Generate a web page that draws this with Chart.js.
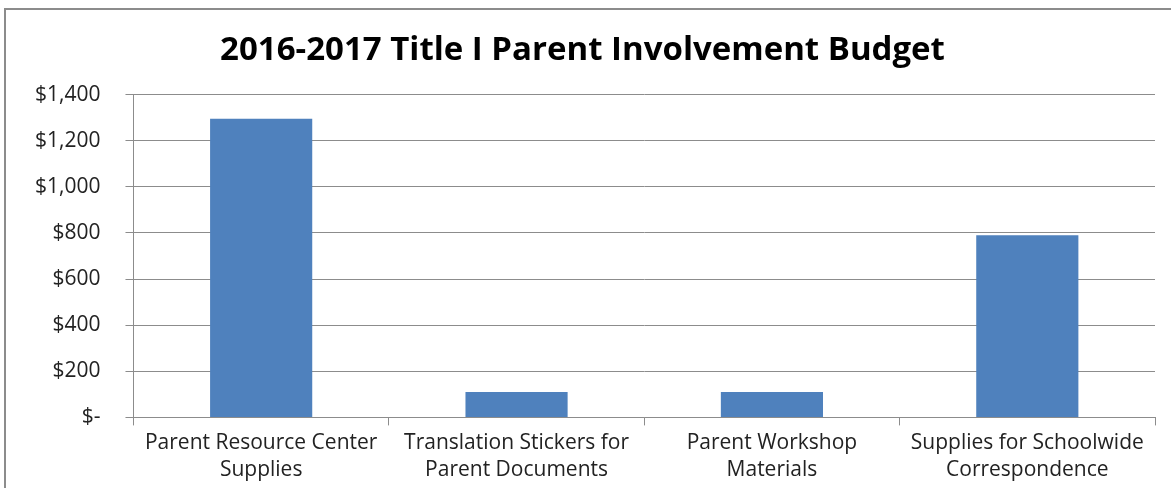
<!DOCTYPE html>
<html>
<head>
<meta charset="utf-8">
<script src="https://cdn.jsdelivr.net/npm/chart.js@4"></script>
<style>
  html, body { margin: 0; padding: 0; background: #fff; overflow: hidden; }
  #frame {
    position: absolute; left: 4px; top: 8px; width: 1200px; height: 520px;
    border-top: 2px solid #8c8c8c; border-left: 2px solid #8c8c8c;
  }
  #wrap { position: absolute; left: 0; top: 0; width: 1171px; height: 488px; }
</style>
</head>
<body>
<div id="frame"></div>
<div id="wrap"><canvas id="budgetChart" width="1171" height="488"></canvas></div>
<script>
// budget categories (two-line labels)
const categories = [
  ["Parent Resource Center", "Supplies"],
  ["Translation Stickers for", "Parent Documents"],
  ["Parent Workshop", "Materials"],
  ["Supplies for Schoolwide", "Correspondence"],
];
const amounts = [1295, 110, 110, 790];
const yTicks = [0, 200, 400, 600, 800, 1000, 1200, 1400];

const fmt = (v) =>
  v === 0 ? "$-" : "$" + v.toLocaleString("en-US");

const ctx = document.getElementById("budgetChart").getContext("2d");
new Chart(ctx, {
  type: "bar",
  data: {
    labels: categories,
    datasets: [
      {
        data: amounts,
        backgroundColor: "#4f81bd",
        borderWidth: 0,
        barPercentage: 0.4,
        categoryPercentage: 1,
      },
    ],
  },
  options: {
    responsive: false,
    animation: false,
    layout: { padding: { top: 31, left: 10, right: 16, bottom: 0 } },
    plugins: {
      legend: { display: false },
      tooltip: { enabled: false },
      title: {
        display: true,
        text: "2016-2017 Title I Parent Involvement Budget",
        color: "#000",
        font: { family: "Open Sans", size: 33, weight: "bold" },
        padding: { top: 0, bottom: 24 },
      },
    },
    scales: {
      y: {
        min: 0,
        max: 1400,
        afterBuildTicks: (axis) => {
          axis.ticks = yTicks.map((v) => ({ value: v }));
        },
        ticks: {
          color: "#222",
          font: { family: "Open Sans", size: 21 },
          padding: 25,
          callback: (v) => fmt(v),
        },
        grid: { color: "#8c8c8c", tickLength: 8, lineWidth: 1 },
        border: { color: "#8c8c8c" },
      },
      x: {
        ticks: {
          color: "#222",
          font: { family: "Open Sans", size: 21, lineHeight: 1.3 },
          padding: 4,
          maxRotation: 0,
          autoSkip: false,
        },
        grid: {
          offset: true,
          drawOnChartArea: false,
          color: "#8c8c8c",
          tickLength: 8,
        },
        border: { color: "#8c8c8c" },
      },
    },
  },
});
</script>
</body>
</html>
